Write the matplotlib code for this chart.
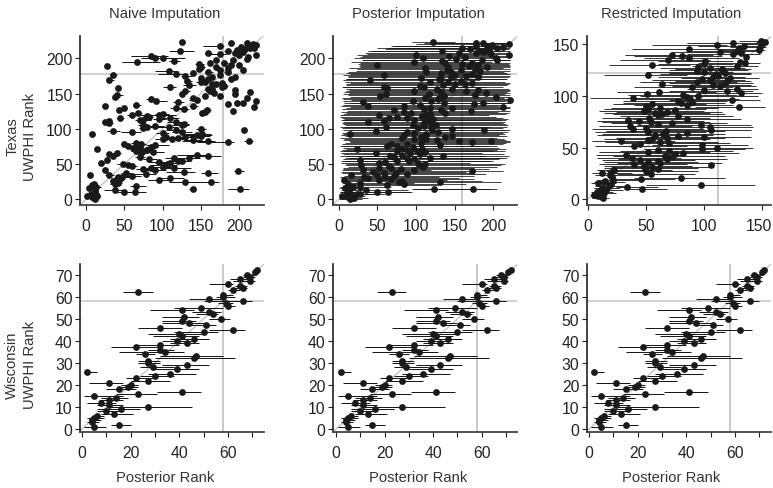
"""Six-panel caterpillar comparison of UWPHI rank vs posterior rank."""

import matplotlib
matplotlib.use('Agg')
import matplotlib.pyplot as plt
from matplotlib.transforms import ScaledTranslation
import numpy as np

plt.rcParams['font.family'] = ['Liberation Sans', 'DejaVu Sans']

W, H = 773, 489

method_titles = ['Naive Imputation', 'Posterior Imputation', 'Restricted Imputation']
state_labels = ['Texas\nUWPHI Rank', 'Wisconsin\nUWPHI Rank']

# Texas, naive imputation (index = UWPHI rank - 1)
naive_x = [
    12, 10, 8, 1, 14, 7, 11, 6, 12, 64,
    50, 12, 38, 201, 140, 4, 13, 10, 65, 8,
    38, 11, 42, 164, 130, 35, 40, 95, 45, 110,
    47, 42, 60, 30, 5, 79, 160, 52, 128, 199,
    90, 25, 75, 85, 115, 100, 60, 105, 55, 48,
    110, 20, 95, 125, 120, 28, 83, 135, 115, 70,
    160, 35, 145, 30, 40, 72, 88, 65, 75, 80,
    15, 68, 62, 85, 70, 55, 90, 50, 72, 65,
    185, 160, 213, 140, 100, 112, 120, 130, 105, 150,
    145, 8, 152, 100, 125, 60, 35, 207, 118, 150,
    75, 108, 80, 90, 125, 75, 128, 30, 25, 118,
    30, 70, 75, 95, 45, 110, 82, 80, 95, 60,
    100, 68, 152, 155, 192, 158, 43, 128, 50, 118,
    220, 25, 140, 66, 185, 197, 205, 120, 92, 222,
    145, 85, 210, 140, 38, 155, 175, 40, 125, 195,
    167, 215, 130, 162, 195, 165, 160, 42, 110, 178,
    180, 135, 170, 165, 178, 155, 150, 132, 30, 190,
    160, 150, 165, 195, 130, 175, 35, 118, 140, 185,
    160, 108, 205, 175, 148, 185, 170, 150, 28, 190,
    200, 148, 162, 180, 67, 115, 192, 170, 210, 90,
    100, 212, 85, 222, 200, 175, 195, 160, 205, 185,
    123, 198, 208, 215, 220, 203, 212, 175, 222, 218,
    210, 190, 126,
]
naive_minus = [
    2, 2, 1, 1, 3, 2, 4, 2, 3, 18,
    10, 3, 14, 15, 5, 1, 4, 2, 8, 3,
    6, 2, 4, 30, 22, 4, 6, 14, 4, 16,
    8, 5, 18, 5, 1, 25, 10, 6, 24, 6,
    16, 4, 10, 8, 18, 12, 6, 20, 4, 8,
    20, 4, 14, 18, 16, 3, 8, 20, 12, 6,
    24, 3, 26, 3, 5, 6, 10, 6, 4, 8,
    2, 5, 4, 8, 4, 5, 12, 4, 5, 6,
    40, 35, 6, 12, 10, 12, 8, 14, 8, 16,
    16, 3, 22, 8, 12, 14, 8, 2, 14, 6,
    6, 10, 8, 14, 12, 7, 6, 4, 4, 12,
    4, 6, 8, 8, 4, 14, 6, 5, 24, 6,
    10, 4, 3, 3, 2, 4, 4, 6, 4, 8,
    2, 4, 5, 4, 3, 2, 3, 6, 8, 2,
    10, 6, 2, 5, 2, 4, 4, 3, 3, 3,
    3, 2, 5, 3, 2, 3, 2, 3, 10, 3,
    5, 8, 4, 3, 3, 5, 6, 4, 3, 5,
    5, 3, 2, 3, 6, 3, 3, 24, 3, 4,
    5, 18, 3, 5, 4, 2, 3, 4, 3, 3,
    3, 5, 3, 4, 20, 6, 3, 4, 2, 18,
    22, 2, 26, 1, 3, 20, 3, 4, 3, 4,
    14, 3, 3, 2, 2, 3, 2, 22, 1, 2,
    3, 3, 4,
]
naive_plus = [
    3, 4, 2, 2, 4, 3, 5, 4, 5, 15,
    12, 4, 12, 12, 4, 2, 6, 3, 14, 4,
    8, 3, 5, 10, 18, 5, 8, 14, 5, 18,
    14, 6, 12, 6, 2, 12, 12, 8, 14, 8,
    14, 4, 12, 7, 22, 14, 7, 14, 5, 9,
    18, 5, 16, 12, 8, 3, 10, 14, 14, 7,
    16, 3, 14, 4, 6, 7, 14, 6, 5, 12,
    3, 5, 6, 9, 4, 6, 18, 5, 7, 6,
    8, 8, 5, 12, 14, 16, 10, 10, 12, 12,
    20, 4, 12, 9, 14, 12, 9, 3, 12, 7,
    8, 12, 30, 12, 10, 8, 7, 5, 5, 14,
    4, 8, 10, 10, 5, 12, 6, 6, 22, 7,
    8, 5, 3, 4, 2, 5, 5, 7, 4, 8,
    2, 4, 6, 6, 3, 3, 3, 8, 14, 2,
    4, 5, 3, 6, 5, 4, 4, 8, 4, 4,
    3, 2, 6, 3, 2, 3, 3, 3, 8, 3,
    6, 9, 4, 3, 4, 6, 7, 6, 6, 5,
    6, 3, 2, 3, 8, 3, 5, 12, 3, 5,
    6, 12, 3, 6, 5, 2, 3, 5, 4, 3,
    3, 6, 3, 5, 30, 8, 3, 4, 2, 26,
    30, 2, 22, 1, 3, 8, 3, 5, 3, 4,
    18, 3, 3, 2, 2, 3, 2, 6, 1, 2,
    3, 3, 4,
]

# Texas, posterior imputation
posterior_x = [
    14, 20, 12, 4, 9, 16, 27, 24, 11, 64,
    49, 13, 35, 174, 123, 8, 18, 28, 15, 63,
    84, 12, 27, 131, 78, 82, 7, 52, 68, 38,
    60, 33, 71, 49, 16, 88, 58, 74, 45, 172,
    98, 31, 81, 68, 52, 109, 65, 104, 29, 112,
    52, 103, 60, 91, 76, 28, 97, 118, 88, 72,
    135, 66, 82, 105, 48, 92, 112, 75, 101, 88,
    24, 108, 82, 96, 63, 75, 131, 89, 68, 106,
    173, 155, 197, 127, 97, 113, 82, 137, 106, 146,
    84, 15, 113, 97, 128, 89, 48, 188, 121, 146,
    103, 119, 61, 110, 126, 96, 121, 110, 38, 112,
    59, 115, 97, 122, 65, 88, 75, 108, 113, 52,
    118, 137, 93, 84, 171, 132, 71, 110, 147, 118,
    213, 38, 84, 105, 175, 136, 187, 32, 120, 96,
    222, 128, 112, 130, 203, 53, 136, 176, 117, 61,
    190, 132, 98, 165, 180, 127, 146, 62, 110, 58,
    105, 135, 150, 164, 172, 118, 142, 158, 40, 132,
    130, 107, 145, 180, 165, 59, 150, 172, 132, 145,
    113, 183, 158, 140, 176, 112, 192, 142, 168, 49,
    180, 160, 138, 172, 97, 133, 205, 185, 152, 203,
    109, 163, 143, 220, 100, 197, 178, 155, 188, 183,
    134, 195, 170, 205, 160, 212, 192, 178, 198, 220,
    178, 187, 122,
]
posterior_lo = [
    0, 1, 0, 0, 1, 2, 3, 1, 2, 2,
    2, 1, 3, 96, 95, 1, 3, 2, 2, 6,
    8, 3, 5, 60, 4, 5, 2, 9, 6, 7,
    3, 2, 7, 10, 2, 14, 4, 7, 3, 40,
    9, 4, 5, 3, 6, 12, 4, 8, 2, 10,
    3, 9, 4, 7, 3, 2, 6, 13, 8, 3,
    10, 2, 4, 6, 3, 5, 9, 2, 7, 4,
    2, 9, 5, 7, 2, 6, 12, 4, 2, 8,
    14, 10, 13, 6, 3, 7, 2, 10, 5, 8,
    3, 2, 6, 4, 9, 3, 2, 14, 6, 10,
    4, 7, 2, 5, 8, 3, 6, 4, 2, 6,
    2, 5, 3, 7, 2, 4, 2, 5, 3, 2,
    5, 9, 2, 3, 11, 6, 2, 4, 9, 3,
    14, 2, 3, 5, 12, 7, 14, 3, 6, 4,
    16, 6, 4, 7, 14, 3, 8, 12, 5, 4,
    13, 7, 5, 10, 13, 6, 9, 6, 5, 4,
    7, 9, 10, 12, 14, 8, 10, 12, 6, 9,
    10, 7, 12, 15, 12, 6, 11, 14, 9, 12,
    12, 22, 18, 15, 24, 13, 28, 20, 26, 21,
    27, 25, 22, 28, 16, 24, 32, 30, 26, 30,
    20, 28, 30, 42, 24, 36, 40, 34, 44, 42,
    38, 55, 60, 62, 50, 70, 72, 68, 85, 100,
    110, 118, 95,
]
posterior_hi = [
    30, 38, 28, 20, 34, 46, 60, 52, 40, 95,
    92, 45, 90, 205, 196, 32, 60, 68, 48, 130,
    165, 40, 98, 210, 170, 185, 50, 140, 175, 155,
    160, 130, 175, 150, 105, 190, 170, 180, 165, 212,
    200, 120, 195, 185, 175, 205, 190, 210, 150, 215,
    170, 208, 185, 200, 195, 155, 208, 218, 212, 190,
    220, 190, 205, 214, 185, 212, 218, 200, 215, 205,
    165, 216, 208, 214, 195, 205, 219, 212, 190, 216,
    221, 218, 222, 217, 210, 214, 205, 220, 212, 218,
    208, 170, 215, 212, 219, 206, 188, 222, 216, 220,
    213, 218, 196, 214, 219, 210, 217, 212, 182, 215,
    198, 216, 210, 219, 200, 212, 204, 214, 216, 195,
    217, 220, 210, 206, 222, 219, 200, 214, 221, 216,
    222, 184, 208, 214, 222, 220, 222, 176, 217, 210,
    222, 218, 214, 219, 222, 190, 220, 222, 215, 196,
    222, 218, 210, 222, 222, 217, 220, 195, 212, 190,
    212, 218, 220, 222, 222, 215, 220, 222, 178, 218,
    217, 210, 220, 222, 221, 186, 220, 222, 218, 220,
    214, 221, 221, 220, 222, 212, 222, 218, 222, 180,
    221, 220, 218, 221, 198, 216, 222, 221, 220, 222,
    205, 220, 218, 222, 200, 222, 222, 219, 222, 222,
    214, 222, 220, 222, 218, 222, 222, 221, 222, 222,
    222, 222, 150,
]
# rows whose whisker does not show in the reference (lost in its rasterisation)
posterior_unseen = [
    3, 6, 9, 12, 17, 19, 22, 25, 27, 31, 34, 35, 38, 41, 44, 47, 49, 52, 53, 56,
    60, 63, 66, 67, 71, 74, 77, 79, 82, 85, 88, 89, 92, 96, 97, 100, 104, 106,
    109, 111, 115, 118, 119, 123, 126, 127, 130, 132, 135, 138, 140, 144, 146,
    147, 150, 153, 156, 158, 161, 164, 167, 168, 172, 174, 177, 180, 183, 184,
    188, 190, 193, 196, 199, 200, 204, 207, 209, 212, 216, 219,
]

# Texas, restricted imputation
restricted_x = [
    13, 12, 9, 5, 11, 14, 8, 10, 16, 47,
    12, 34, 18, 97, 20, 9, 14, 15, 22, 46,
    80, 21, 19, 54, 12, 20, 50, 23, 60, 49,
    55, 48, 106, 40, 62, 52, 60, 45, 68, 38,
    72, 66, 33, 75, 82, 52, 70, 60, 98, 111,
    40, 98, 45, 70, 62, 29, 52, 55, 68, 100,
    78, 58, 65, 85, 52, 67, 106, 39, 50, 105,
    36, 97, 60, 72, 54, 44, 35, 85, 53, 78,
    60, 64, 58, 68, 48, 75, 52, 62, 130, 50,
    85, 55, 80, 90, 78, 124, 88, 39, 85, 95,
    82, 51, 132, 61, 120, 100, 128, 90, 114, 108,
    64, 118, 94, 120, 105, 98, 122, 108, 112, 52,
    110, 118, 100, 94, 115, 115, 105, 95, 128, 55,
    100, 135, 131, 101, 69, 87, 136, 81, 72, 125,
    132, 114, 128, 147, 87, 130, 148, 134, 111, 150,
    125, 152, 149,
]
restricted_lo = [
    4, 3, 3, 2, 4, 5, 3, 4, 6, 31,
    5, 24, 6, 50, 8, 3, 5, 5, 8, 22,
    40, 5, 6, 25, 4, 6, 16, 8, 25, 14,
    20, 14, 55, 10, 25, 14, 22, 12, 26, 8,
    30, 22, 7, 32, 35, 10, 28, 20, 48, 60,
    6, 55, 12, 28, 15, 4, 10, 14, 24, 50,
    35, 8, 12, 35, 6, 16, 52, 4, 6, 50,
    10, 42, 10, 20, 12, 8, 14, 38, 12, 28,
    15, 22, 14, 24, 10, 30, 14, 20, 92, 16,
    40, 22, 30, 42, 30, 70, 40, 2, 35, 45,
    35, 40, 95, 25, 70, 50, 85, 40, 72, 60,
    25, 70, 45, 75, 55, 48, 80, 60, 70, 14,
    62, 70, 50, 45, 70, 75, 62, 50, 90, 18,
    60, 95, 90, 60, 28, 48, 100, 40, 32, 85,
    92, 72, 90, 115, 38, 95, 122, 95, 55, 135,
    85, 145, 130,
]
restricted_hi = [
    18, 20, 16, 14, 20, 24, 22, 26, 30, 68,
    28, 60, 35, 144, 42, 24, 32, 40, 48, 75,
    118, 48, 52, 92, 38, 55, 95, 72, 125, 95,
    105, 90, 143, 85, 115, 95, 112, 92, 120, 80,
    120, 118, 80, 125, 130, 105, 125, 110, 135, 142,
    85, 138, 92, 122, 112, 75, 100, 105, 118, 140,
    130, 108, 118, 138, 102, 118, 140, 100, 105, 142,
    90, 140, 110, 120, 105, 100, 88, 132, 105, 125,
    112, 118, 105, 115, 100, 120, 102, 112, 152, 98,
    125, 102, 118, 128, 120, 148, 130, 85, 125, 146,
    128, 100, 150, 110, 142, 138, 146, 125, 145, 140,
    110, 142, 128, 140, 135, 125, 147, 135, 135, 85,
    140, 140, 125, 122, 138, 140, 135, 120, 146, 88,
    125, 148, 143, 125, 105, 130, 150, 115, 108, 148,
    148, 135, 145, 152, 135, 148, 153, 148, 120, 153,
    148, 154, 153,
]
restricted_unseen = [
    2, 5, 8, 15, 18, 22, 26, 29, 33, 37, 41, 44, 48, 53, 57, 61, 64, 69, 73, 77,
    81, 86, 90, 94, 99, 102, 106, 111, 116, 119, 124, 128, 133, 137, 141, 146,
]

# Wisconsin is almost identical across the three imputations
wisconsin_x = [
    5, 15, 4, 4, 5, 6, 13, 10, 16, 27,
    11, 8, 11, 14, 5, 23, 41, 15, 19, 20,
    11, 27, 22, 30, 36, 2, 39, 29, 43, 27,
    27, 46, 47, 26, 34, 32, 22, 32, 43, 39,
    46, 41, 40, 50, 62, 32, 51, 44, 41, 57,
    42, 54, 52, 41, 49, 60, 59, 66, 52, 58,
    58, 23, 62, 66, 65, 60, 69, 65, 69, 68,
    71, 72,
]
wisconsin_lo = [
    1, 12, 2, 3, 2, 4, 8, 6, 6, 12,
    6, 2, 7, 8, 1, 14, 31, 10, 15, 16,
    3, 20, 18, 24, 27, 1, 30, 24, 33, 23,
    23, 30, 32, 22, 15, 27, 12, 22, 36, 33,
    36, 29, 27, 38, 52, 23, 44, 33, 33, 52,
    33, 47, 45, 28, 38, 58, 56, 50, 44, 55,
    57, 17, 60, 62, 63, 52, 62, 61, 66, 66,
    70, 71,
]
wisconsin_hi = [
    10, 20, 7, 8, 9, 9, 21, 16, 24, 45,
    17, 14, 17, 19, 17, 31, 49, 22, 23, 23,
    17, 36, 30, 38, 47, 6, 48, 38, 52, 32,
    32, 63, 58, 30, 42, 38, 32, 40, 48, 46,
    52, 48, 50, 56, 67, 41, 55, 50, 47, 61,
    48, 56, 57, 46, 58, 63, 62, 70, 58, 63,
    62, 29, 65, 68, 68, 62, 71, 69, 71, 71,
    72, 73,
]

ref_lines = [
    [(179, 178), (160, 178), (112, 122)],
    [(58, 58), (58, 58), (58, 58)],
]

# panel boxes in pixels: left, right edge, pixel of first/second x tick
x_boxes = [
    [(80.3, 264, 86, 239, 0, 200), (333, 517, 338.7, 493.3, 0, 200), (587, 771, 587.7, 762.3, 0, 150)],
    [(80.3, 264, 82, 228, 0, 60), (333.3, 517, 336, 481.7, 0, 60), (587, 771, 589, 735, 0, 60)],
]
y_boxes = [
    [(206, 37, 200.3, 59.3, 0, 200), (206, 37, 200.3, 59.3, 0, 200), (206, 37, 200.3, 45, 0, 150)],
    [(433.3, 265, 430, 275.7, 0, 70)] * 3,
]


def px_limits(edge0, edge1, tick0, tick1, val0, val1):
    """Data limits so that val0/val1 land on the measured tick pixels."""
    per_px = (val1 - val0) / (tick1 - tick0)
    return val0 + (edge0 - tick0) * per_px, val0 + (edge1 - tick0) * per_px


def draw_panel(ax, x, lo, hi, ref, unseen=(), lw=0.7, dot=4.9):
    x = np.asarray(x)
    y = np.arange(1, len(x) + 1)
    shown = ~np.isin(y, unseen)
    xlo, xhi = ax.get_xlim()
    ylo, yhi = ax.get_ylim()
    ax.plot([min(xlo, ylo), max(xhi, yhi)], [min(xlo, ylo), max(xhi, yhi)],
            color='#c4c4c4', lw=1.0, zorder=1, scalex=False, scaley=False)
    ax.axvline(ref[0], color='#c4c4c4', lw=1.3, zorder=1)
    ax.axhline(ref[1], color='#c4c4c4', lw=1.1, zorder=1)
    ax.hlines(y[shown], np.asarray(lo)[shown], np.asarray(hi)[shown],
              color='#111111', lw=lw, zorder=2)
    ax.plot(x, y, 'o', color='#1a1a1a', ms=dot, mew=0, zorder=3)


fig = plt.figure(figsize=(W / 100, H / 100), dpi=100)

top_x = [naive_x, posterior_x, restricted_x]
top_lo = [np.subtract(naive_x, naive_minus), posterior_lo, restricted_lo]
top_hi = [np.add(naive_x, naive_plus), posterior_hi, restricted_hi]
top_unseen = [(), posterior_unseen, restricted_unseen]
top_lw = [0.7, 0.55, 0.6]

for row in range(2):
    for col in range(3):
        l, r = x_boxes[row][col][:2]
        b, t = y_boxes[row][col][:2]
        ax = fig.add_axes([l / W, 1 - b / H, (r - l) / W, (b - t) / H])
        ax.set_xlim(px_limits(*x_boxes[row][col]))
        ax.set_ylim(px_limits(*y_boxes[row][col]))

        if row == 0:
            draw_panel(ax, top_x[col], top_lo[col], top_hi[col], ref_lines[row][col],
                       unseen=top_unseen[col], lw=top_lw[col])
            xt = [0, 50, 100, 150] if col == 2 else [0, 50, 100, 150, 200]
            ax.set_xticks(xt)
            ax.set_yticks(xt)
        else:
            draw_panel(ax, wisconsin_x, wisconsin_lo, wisconsin_hi, ref_lines[row][col])
            ax.set_xticks([0, 20, 40, 60])
            ax.set_xticks([10, 30, 50, 70], minor=True)
            ax.set_yticks(range(0, 71, 10))

        for side in ['top', 'right']:
            ax.spines[side].set_visible(False)
        ax.spines['left'].set_linewidth(1.2)
        ax.spines['left'].set_color('#222222')
        ax.spines['bottom'].set_linewidth(1.3)
        ax.spines['bottom'].set_color('#444444')
        ax.tick_params(axis='both', which='both', length=3.5, width=0.8, color='#222222',
                       labelsize=11.3, labelcolor='#222222', pad=2)
        ax.tick_params(axis='x', pad=6)

        # last label of the right column would run off the image
        if row == 0 and col == 2:
            last = ax.get_xticklabels()[-1]
            last.set_transform(last.get_transform()
                               + ScaledTranslation(-3 / 100, 0, fig.dpi_scale_trans))

for col, title in enumerate(method_titles):
    cx = [165, 418, 671][col]
    fig.text(cx / W, 1 - 14 / H, title, ha='center', va='center', fontsize=10.6, color='#333333')
    fig.text(cx / W, 1 - 478 / H, 'Posterior Rank', ha='center', va='center', fontsize=10.6, color='#333333')

fig.text(21 / W, 1 - 137 / H, state_labels[0], rotation=90, ha='center', va='center',
         multialignment='center', fontsize=10.6, color='#333333', linespacing=1.3)
fig.text(21 / W, 1 - 365 / H, state_labels[1], rotation=90, ha='center', va='center',
         multialignment='center', fontsize=10.6, color='#333333', linespacing=1.3)

fig.savefig('out.png', dpi=100)
